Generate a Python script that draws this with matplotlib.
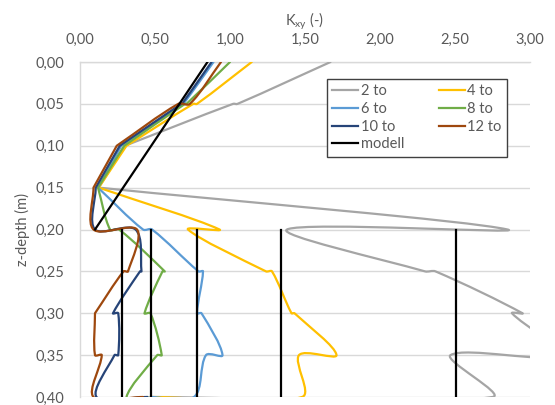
import numpy as np
import matplotlib
matplotlib.use("Agg")
import matplotlib.pyplot as plt
from matplotlib.path import Path
from matplotlib.patches import PathPatch
from matplotlib.lines import Line2D
from matplotlib.ticker import FuncFormatter

plt.rcParams['font.family'] = ['Lato', 'DejaVu Sans']

# ---- data: K_xy at depths z (two values per inner node: upper / lower element) ----
labels = ["2 to", "4 to", "6 to", "8 to", "10 to", "12 to"]
colors = ["#A5A5A5", "#FFC000", "#5B9BD5", "#70AD47", "#264478", "#9E480E"]

z_depth = [0.00, 0.05, 0.05, 0.10, 0.10, 0.15, 0.15, 0.20, 0.20,
           0.25, 0.25, 0.30, 0.30, 0.35, 0.35, 0.40, 0.40]

k_2 = [1.67, 1.05, 1.02, 0.30, 0.30, 0.125, 0.125, 2.85, 1.38,
       2.30, 2.37, 2.95, 2.88, 3.20, 2.47, 2.75, 0.47]
k_4 = [1.145, 0.78, 0.755, 0.31, 0.31, 0.125, 0.125, 0.93, 0.72,
       1.24, 1.28, 1.41, 1.43, 1.71, 1.46, 1.48, 0.47]
k_6 = [0.89, 0.69, 0.685, 0.275, 0.275, 0.12, 0.12, 0.42, 0.48,
       0.79, 0.82, 0.78, 0.81, 0.95, 0.84, 0.76, 0.47]
k_8 = [1.0, 0.71, 0.70, 0.295, 0.295, 0.12, 0.12, 0.20, 0.26,
       0.565, 0.55, 0.43, 0.47, 0.545, 0.515, 0.31, 0.45]
k_10 = [0.877, 0.68, 0.675, 0.265, 0.265, 0.105, 0.105, 0.10, 0.37,
        0.41, 0.40, 0.22, 0.255, 0.255, 0.23, 0.11, 0.45]
k_12 = [0.94, 0.733, 0.655, 0.245, 0.245, 0.09, 0.09, 0.09, 0.38,
        0.32, 0.29, 0.10, 0.10, 0.10, 0.145, 0.09, 0.42]

model_z_top = [0.0, 0.20]
model_k_top = [0.85, 0.10]
model_k_vertical = [2.51, 1.34, 0.78, 0.47, 0.28]
model_z_vertical = [0.20, 0.40]

x_ticks = [0, 0.5, 1.0, 1.5, 2.0, 2.5, 3.0]
y_ticks = [0, 0.05, 0.10, 0.15, 0.20, 0.25, 0.30, 0.35, 0.40]

series_k = [k_2, k_4, k_6, k_8, k_10, k_12]

# screen scale of the plot area (pixels per data unit), used for smoothing weights
PX_X = 450 / 3.0
PX_Y = 335 / 0.40


def smooth_path(k, z):
    """Excel-like smoothed line: cubic Bezier through the data points with
    tangents weighted by the on-screen lengths of the adjacent segments."""
    P = np.column_stack([k, z]).astype(float)
    S = P * np.array([PX_X, PX_Y])
    n = len(P)
    verts = [P[0]]
    codes = [Path.MOVETO]

    def dist(a, b):
        return float(np.hypot(*(S[a] - S[b])))

    for i in range(n - 1):
        i0 = i - 1 if i > 0 else i
        i3 = i + 2 if i + 2 < n else i + 1
        p0, p1, p2, p3 = P[i0], P[i], P[i + 1], P[i3]
        d01, d12, d23 = dist(i0, i), dist(i, i + 1), dist(i + 1, i3)
        w1 = d12 / (d01 + d12) / 3.0 if (d01 + d12) > 0 else 0.0
        w2 = d12 / (d12 + d23) / 3.0 if (d12 + d23) > 0 else 0.0
        c1 = p1 + (p2 - p0) * w1
        c2 = p2 - (p3 - p1) * w2
        verts += [c1, c2, p2]
        codes += [Path.CURVE4] * 3
    return Path(verts, codes)


fig = plt.figure(figsize=(5.55, 4.05), dpi=100)
ax = fig.add_axes([80 / 555, 1 - 397 / 405, 450 / 555, 335 / 405])

text_col = "#595959"
grid_col = "#D9D9D9"

lw = 1.6
for k, c in zip(series_k, colors):
    ax.add_patch(PathPatch(smooth_path(k, z_depth), fill=False, edgecolor=c, lw=lw,
                           joinstyle='round', capstyle='round', zorder=3))

ax.plot(model_k_top, model_z_top, color="black", lw=lw, zorder=4)
for kv in model_k_vertical:
    ax.plot([kv, kv], model_z_vertical, color="black", lw=lw, zorder=4)

ax.set_xlim(0, 3.0)
ax.set_ylim(0.40, 0.0)
ax.set_xticks(x_ticks)
ax.set_yticks(y_ticks)
fmt = FuncFormatter(lambda v, p: f"{v:.2f}".replace(".", ","))
ax.xaxis.set_major_formatter(fmt)
ax.yaxis.set_major_formatter(fmt)

ax.xaxis.tick_top()
ax.xaxis.set_label_position('top')
ax.tick_params(axis='x', length=0, pad=11, labelsize=10.5, colors=text_col)
ax.tick_params(axis='y', length=0, pad=11, labelsize=10.5, colors=text_col)

ax.yaxis.grid(True, color=grid_col, lw=1.0, zorder=0)
ax.xaxis.grid(False)
for s in ['right', 'bottom']:
    ax.spines[s].set_visible(False)
for s in ['left', 'top']:
    ax.spines[s].set_color(grid_col)
    ax.spines[s].set_linewidth(1.0)

ax.set_xlabel("K$_{\\mathregular{xy}}$ (-)", fontsize=10.5, color=text_col, labelpad=5)
ax.set_ylabel("z-depth (m)", fontsize=10.5, color=text_col, labelpad=4)

handles = [Line2D([], [], color=c, lw=lw) for c in colors]
mh = Line2D([], [], color="black", lw=lw)
order_h = [handles[0], handles[2], handles[4], mh, handles[1], handles[3], handles[5]]
order_l = [labels[0], labels[2], labels[4], "modell", labels[1], labels[3], labels[5]]
leg = ax.legend(order_h, order_l, ncol=2, loc='upper left',
                bbox_to_anchor=(247 / 450, 1 - 17 / 335), borderaxespad=0,
                fontsize=10.5, frameon=True, fancybox=False, framealpha=1,
                edgecolor="#404040", handlelength=1.8, handletextpad=0.15,
                columnspacing=2.4, labelspacing=0.26, borderpad=0.35)
leg.get_frame().set_linewidth(1.0)
for t in leg.get_texts():
    t.set_color(text_col)
leg.set_zorder(10)

fig.savefig("out.png", dpi=100)
